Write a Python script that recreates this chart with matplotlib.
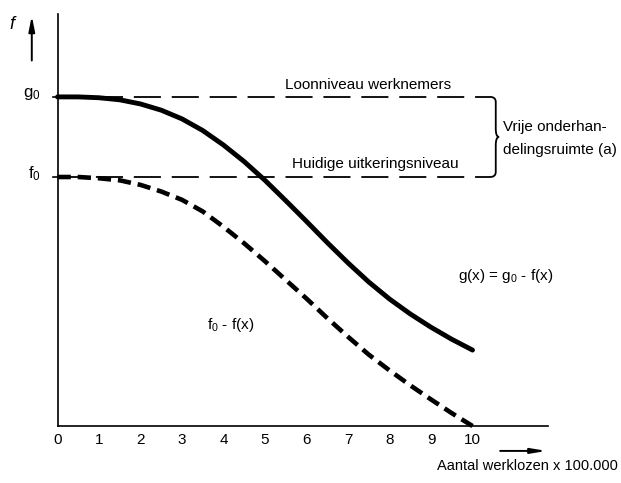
import numpy as np
import matplotlib
matplotlib.use("Agg")
import matplotlib.pyplot as plt
from matplotlib.path import Path
from matplotlib.patches import PathPatch

plt.rcParams["font.family"] = ["Liberation Sans", "DejaVu Sans"]
plt.rcParams["mathtext.fontset"] = "custom"
plt.rcParams["mathtext.rm"] = "Liberation Sans"
plt.rcParams["mathtext.it"] = "Liberation Sans:italic"

# values (x in units of 100.000 unemployed)
x_vals = [0, 0.5, 1, 1.5, 2, 2.5, 3, 3.5, 4, 4.5, 5, 5.5, 6, 6.5, 7, 7.5, 8, 8.5, 9, 9.5, 10]
g_vals = [7.93, 7.93, 7.91, 7.86, 7.76, 7.61, 7.40, 7.12, 6.77, 6.37, 5.92, 5.43, 4.93,
          4.42, 3.93, 3.47, 3.06, 2.70, 2.38, 2.09, 1.83]
f_vals = [6.0, 6.0, 5.97, 5.92, 5.81, 5.65, 5.45, 5.17, 4.80, 4.40, 3.97, 3.52, 3.07,
          2.60, 2.15, 1.72, 1.34, 0.98, 0.64, 0.31, 0.0]
g0 = 7.93
f0 = 6.0
x_ticks = list(range(0, 11))
level_end = 10.42

fig = plt.figure(figsize=(6.21, 4.83), dpi=100)
ax = fig.add_axes([0, 0, 1, 1])
ax.set_xlim(-1.386, 13.578)
ax.set_ylim(-1.373, 10.265)
ax.axis("off")

# axes
ax.plot([0, 0], [0, 9.93], color="black", lw=1.2)
ax.plot([0, 11.82], [0, 0], color="black", lw=1.2)
for t in x_ticks:
    ax.text(t, -0.33, str(t), ha="center", va="center", fontsize=11)
ax.annotate("", xy=(-0.62, 9.95), xytext=(-0.62, 8.74),
            arrowprops=dict(arrowstyle="-|>,head_length=0.9,head_width=0.18",
                            color="black", lw=1.4))
ax.annotate("", xy=(11.85, -0.6), xytext=(10.6, -0.6),
            arrowprops=dict(arrowstyle="-|>,head_length=0.9,head_width=0.15",
                            color="black", lw=1.4))
ax.text(-1.1, 9.68, "f", style="italic", fontsize=13, ha="center", va="center")
ax.text(13.5, -0.96, "Aantal werklozen x 100.000", ha="right", va="center", fontsize=10.5)

# levels
for lvl, lab in [(g0, "g$_0$"), (f0, "f$_0$")]:
    ln, = ax.plot([0, level_end], [lvl, lvl], color="black", lw=1.3)
    ln.set_dashes((15, 6))
    ax.plot([-0.1, 0], [lvl, lvl], color="black", lw=1.2)
    ax.text(-0.4, lvl + 0.08, lab, ha="right", va="center", fontsize=12)

# curves
ax.plot(x_vals, g_vals, color="black", lw=3.5, solid_capstyle="round")
ln, = ax.plot(x_vals, f_vals, color="black", lw=3.3)
ln.set_dashes((2.9, 1.5))

# brace
bx, tip, ym = level_end, 10.64, (g0 + f0) / 2
xv = 10.56
verts = [(bx, g0), (xv, g0), (xv, g0 - 0.12), (xv, ym + 0.2),
         (xv, ym), (tip, ym), (xv, ym), (xv, ym - 0.2),
         (xv, f0 + 0.12), (xv, f0), (bx, f0)]
codes = [Path.MOVETO, Path.CURVE3, Path.CURVE3, Path.LINETO, Path.CURVE3, Path.CURVE3,
         Path.CURVE3, Path.CURVE3, Path.LINETO, Path.CURVE3, Path.CURVE3]
ax.add_patch(PathPatch(Path(verts, codes), fill=False, lw=1.3, color="black"))

ax.text(7.48, 8.22, "Loonniveau werknemers", ha="center", va="center", fontsize=11)
ax.text(7.65, 6.31, "Huidige uitkeringsniveau", ha="center", va="center", fontsize=11)
ax.text(10.74, 7.2, "Vrije onderhan-", ha="left", va="center", fontsize=11)
ax.text(10.74, 6.66, "delingsruimte (a)", ha="left", va="center", fontsize=11)
ax.text(9.65, 3.61, "g(x) = g$_0$ - f(x)", ha="left", va="center", fontsize=11)
ax.text(3.6, 2.43, "f$_0$ - f(x)", ha="left", va="center", fontsize=11)

fig.savefig("out.png", dpi=100)
